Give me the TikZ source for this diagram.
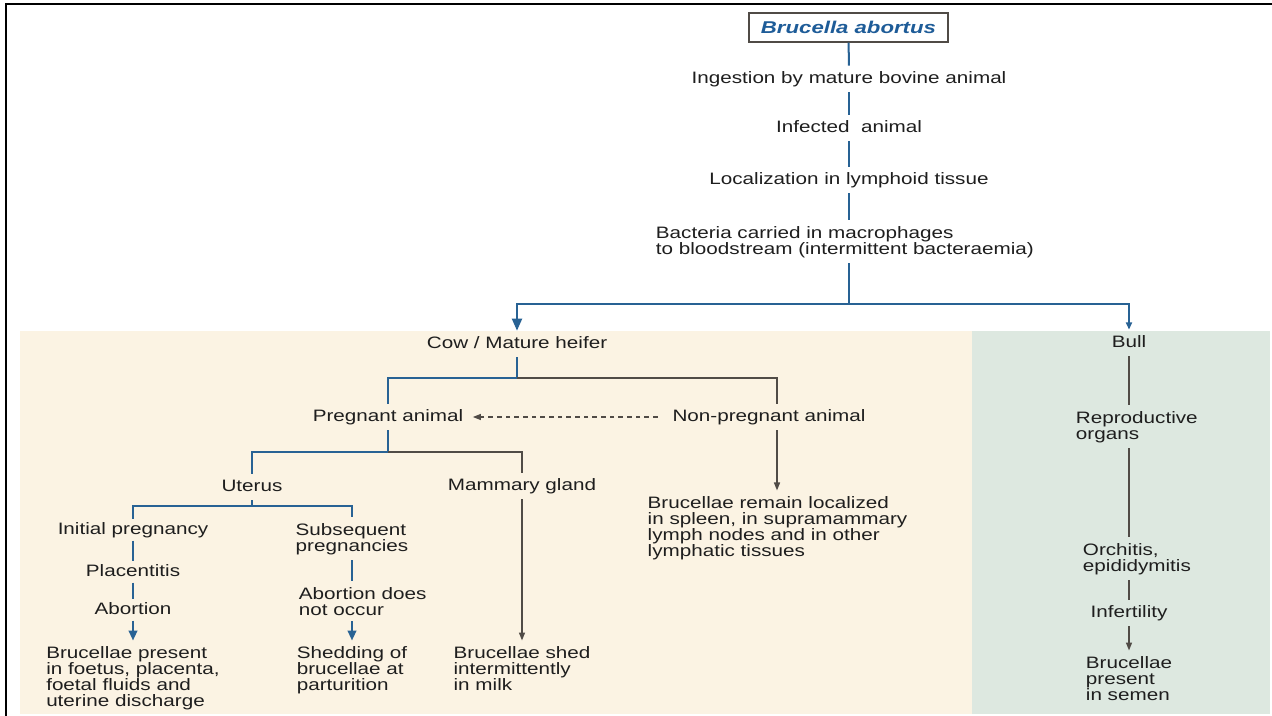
\documentclass[tikz,border=0pt]{standalone}
\usepackage{fontspec}
\setmainfont{Liberation Sans}[FakeStretch=1.25]
\newfontfamily\titlefont{Liberation Sans}[FakeStretch=1.3]
\usetikzlibrary{arrows.meta}
\definecolor{bluel}{RGB}{40,98,148}
\definecolor{grayl}{RGB}{80,75,70}
\definecolor{txt}{RGB}{30,30,30}
\definecolor{beige}{RGB}{251,243,227}
\definecolor{sage}{RGB}{221,232,224}
\definecolor{ttl}{RGB}{30,92,152}
\begin{document}
\begin{tikzpicture}[x=0.75pt,y=-0.75pt,
  lbl/.style={font=\fontsize{12.4pt}{12.2pt}\selectfont, text=txt, inner xsep=2pt, inner ysep=4pt},
  one/.style={lbl, text height=9pt, text depth=2.6pt},
  tight/.style={inner ysep=2pt},
  multi/.style={lbl, align=left},
  bl/.style={draw=bluel, line width=1.5pt},
  gl/.style={draw=grayl, line width=1.1pt},
  btip/.style={-{Triangle[width=6.5pt,length=7.5pt]}},
  bigtip/.style={-{Triangle[width=7.5pt,length=9pt]}},
  smalltip/.style={-{Triangle[width=4.5pt,length=5.5pt]}},
  gtip/.style={-{Triangle[width=4.5pt,length=6pt]}},
  dashline/.style={draw=grayl, line width=0.9pt, dash pattern=on 3.5pt off 3pt}
]
\useasboundingbox (0,0) rectangle (1272,716);
\fill[white] (0,0) rectangle (1272,716);
% panels
\fill[beige] (20,331) rectangle (972,714);
\fill[sage] (972,331) rectangle (1270,714);
% frame
\draw[black, line width=1.6pt] (6,716) -- (6,4) -- (1272,4);

% top chain
\node[draw=grayl, line width=1.1pt, fill=white, minimum width=149pt, minimum height=21.75pt, inner sep=0pt,
      font=\titlefont\bfseries\itshape\fontsize{12.8pt}{13pt}\selectfont, text=ttl] (title) at (848.5,27.5) {Brucella abortus};
\node[one] (ing) at (849,79) {Ingestion by mature bovine animal};
\node[one] (inf) at (849,128) {Infected\ \ animal};
\node[one] (loc) at (849,180) {Localization in lymphoid tissue};
\node[multi, anchor=north west] (bac) at (653,220.5) {Bacteria carried in macrophages\\to bloodstream (intermittent bacteraemia)};
\coordinate (split) at (849,304);

% cow side
\node[one] (cow) at (517,344) {Cow / Mature heifer};
\coordinate (cb) at (517,378);
\node[one] (preg) at (388,417) {Pregnant animal};
\node[one] (nonpreg) at (769,417) {Non-pregnant animal};
\node[multi, anchor=north] (remain) at (777.5,490.5) {Brucellae remain localized\\in spleen, in supramammary\\lymph nodes and in other\\lymphatic tissues};
\coordinate (pb) at (388,452);
\node[one] (uterus) at (252,487) {Uterus};
\node[one] (mammary) at (522,486) {Mammary gland};
\coordinate (ub) at (252,506);
\node[one, tight] (init) at (133,530) {Initial pregnancy};
\node[multi, anchor=north] (sub) at (352,517.5) {Subsequent\\pregnancies};
\node[one, tight] (plac) at (133,572) {Placentitis};
\node[one, tight] (abort) at (133,610) {Abortion};
\node[multi, anchor=north west] (abd) at (296,581.5) {Abortion does\\not occur};
\node[multi, anchor=north] (bpres) at (133,640.5) {Brucellae present\\in foetus, placenta,\\foetal fluids and\\uterine discharge};
\node[multi, anchor=north] (shed) at (352,640.5) {Shedding of\\brucellae at\\parturition};
\node[multi, anchor=north] (milk) at (522,640.5) {Brucellae shed\\intermittently\\in milk};

% bull side
\node[one] (bull) at (1129,343) {Bull};
\node[multi, anchor=north west] (repro) at (1073,405.5) {Reproductive\\organs};
\node[multi, anchor=north west] (orch) at (1080,537.5) {Orchitis,\\epididymitis};
\node[one] (infert) at (1129,613) {Infertility};
\node[multi, anchor=north west] (semen) at (1083,650.5) {Brucellae\\present\\in semen};

% connectors: top
\draw[bl] (title) -- (ing);
\draw[bl] (ing) -- (inf);
\draw[bl] (inf) -- (loc);
\draw[bl] (loc) -- (loc |- bac.north);
\draw[bl] (bac.south -| split) -- (split);
\draw[bl, bigtip] (split) -| (cow);
\draw[bl, smalltip] (split) -| (bull);

% cow branch
\draw[bl] (cow) -- (cb);
\draw[bl] (cb) -| (preg);
\draw[gl] (cb) -| ([xshift=6pt]nonpreg.north);
\draw[dashline, gtip] ([xshift=-9pt]nonpreg.west) -- ([xshift=5pt]preg.east);
\draw[gl, gtip] ([xshift=6pt]nonpreg.south) -- ([xshift=6pt]nonpreg.south |- remain.north);
\draw[bl] (preg) -- (pb);
\draw[bl] (pb) -| (uterus);
\draw[gl] (pb) -| (mammary);
\draw[gl, gtip] (mammary) -- (milk);
\draw[bl] (uterus) -- (ub);
\draw[bl] (ub) -| (init);
\draw[bl] (ub) -| (sub);
\draw[bl] (init) -- (plac);
\draw[bl] (plac) -- (abort);
\draw[bl, btip] (abort) -- (bpres);
\draw[bl] (sub) -- (sub |- abd.north);
\draw[bl, btip] (shed |- abd.south) -- (shed);

% bull branch
\draw[gl] (bull) -- (bull |- repro.north);
\draw[gl] (bull |- repro.south) -- (bull |- orch.north);
\draw[gl] (bull |- orch.south) -- (infert);
\draw[gl, gtip] (infert) -- (infert |- semen.north);
\end{tikzpicture}
\end{document}
